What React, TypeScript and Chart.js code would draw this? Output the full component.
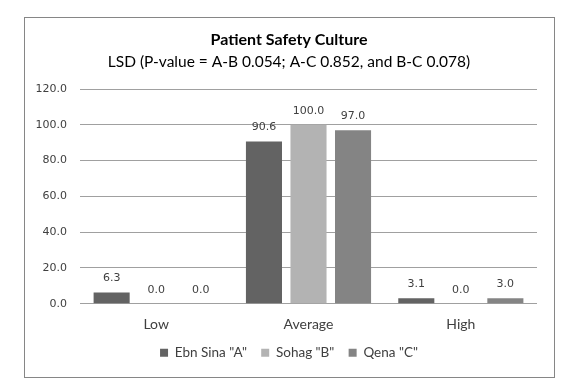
import React, { useEffect, useRef } from "react";
import { Chart, registerables } from "chart.js";

Chart.register(...registerables);

const categories = ["Low", "Average", "High"];
const seriesNames = ['Ebn Sina "A"', 'Sohag "B"', 'Qena "C"'];
const ebnSina = [6.3, 90.6, 3.1];
const sohag = [0.0, 100.0, 0.0];
const qena = [0.0, 97.0, 3.0];
const seriesColors = ["#636363", "#b3b3b3", "#848484"];
const yTicks = { min: 0, max: 120, step: 20 };
const titleText = "Patient Safety Culture";
const subtitleText = "LSD (P-value = A-B 0.054; A-C 0.852, and B-C 0.078)";

const SANS = "Lato, 'Open Sans', sans-serif";
const NUM = "'DejaVu Sans', Verdana, sans-serif";

const frame = {
  id: "frame",
  beforeDraw(chart: any) {
    const ctx = chart.ctx;
    ctx.save();
    ctx.fillStyle = "#ffffff";
    ctx.fillRect(0, 0, chart.width, chart.height);
    ctx.strokeStyle = "#868686";
    ctx.lineWidth = 1;
    ctx.strokeRect(24.5, 17.5, 530, 360);
    ctx.restore();
  },
};

const valueLabels = {
  id: "valueLabels",
  afterDatasetsDraw(chart: any) {
    const ctx = chart.ctx;
    ctx.save();
    ctx.font = `11px ${NUM}`;
    ctx.fillStyle = "#404040";
    ctx.textAlign = "center";
    ctx.textBaseline = "middle";
    chart.data.datasets.forEach((ds: any, i: number) => {
      const meta = chart.getDatasetMeta(i);
      meta.data.forEach((el: any, j: number) => {
        ctx.fillText(Number(ds.data[j]).toFixed(1), el.x, el.y - 14);
      });
    });
    ctx.restore();
  },
};

export default function App() {
  const ref = useRef<HTMLCanvasElement>(null);
  useEffect(() => {
    document.body.style.margin = "0";
    const seriesData = [ebnSina, sohag, qena];
    const chart = new Chart(ref.current!, {
      type: "bar",
      data: {
        labels: categories,
        datasets: seriesNames.map((name, i) => ({
          label: name,
          data: seriesData[i],
          backgroundColor: seriesColors[i],
          borderWidth: 0,
          categoryPercentage: 0.877,
          barPercentage: 0.81,
          yAxisID: "y",
        })),
      },
      options: {
        responsive: false,
        animation: false,
        events: [],
        layout: { padding: { left: 24, right: 15, top: 17, bottom: 20.5 } },
        plugins: {
          title: {
            display: true,
            text: titleText,
            color: "#000000",
            font: { family: SANS, size: 16, weight: "bold", lineHeight: 1.2 },
            padding: { top: 13.4, bottom: 0 },
          },
          subtitle: {
            display: true,
            text: subtitleText,
            color: "#000000",
            font: { family: SANS, size: 15.5, lineHeight: 1.2 },
            padding: { top: 3.1, bottom: 17.7 },
          },
          legend: {
            display: true,
            position: "bottom",
            labels: {
              boxWidth: 8,
              boxHeight: 8,
              padding: 14.3,
              color: "#404040",
              font: { family: SANS, size: 13.5 },
            },
          },
          tooltip: { enabled: false },
        },
        scales: {
          x: {
            grid: { display: false, drawTicks: false },
            border: { display: false },
            ticks: {
              color: "#404040",
              padding: 12,
              font: { family: SANS, size: 14, lineHeight: 1.2 },
            },
            afterFit: (s: any) => {
              s.height = 28;
            },
          },
          y: {
            position: "left",
            min: yTicks.min,
            max: yTicks.max,
            grid: { color: "#a0a0a0", drawTicks: false },
            border: { display: false },
            ticks: {
              stepSize: yTicks.step,
              padding: 13,
              color: "#404040",
              font: { family: NUM, size: 11 },
              callback: (v: any) => Number(v).toFixed(1),
            },
            afterFit: (s: any) => {
              s.width = 56;
            },
          },
          yR: {
            position: "right",
            display: true,
            grid: { display: false, drawTicks: false },
            border: { display: false },
            ticks: { display: false },
            afterFit: (s: any) => {
              s.width = 17;
            },
          },
        },
      },
      plugins: [frame, valueLabels],
    } as any);
    return () => chart.destroy();
  }, []);
  return <canvas ref={ref} width={569} height={390} style={{ display: "block" }} />;
}
